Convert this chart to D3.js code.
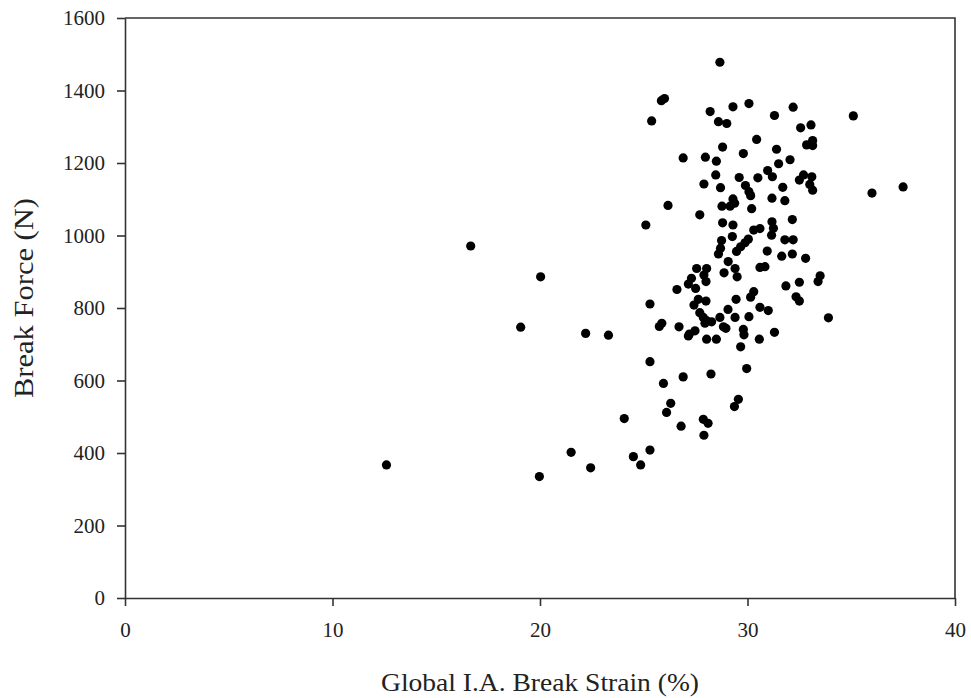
<!DOCTYPE html>
<html>
<head>
<meta charset="utf-8">
<script src="https://cdn.jsdelivr.net/npm/d3@7"></script>
<style>
  body { margin: 0; background: #fff; }
  .chart text { font-family: "Liberation Serif", "DejaVu Serif", serif; fill: #222; }
</style>
</head>
<body>
<div class="chart"></div>
<script>
// Global I.A. break strain (%) vs break force (N)
var strain = [
  28.67, 25.85, 26.0, 25.38, 28.2, 29.3, 30.07, 31.3, 32.2, 35.1,
  28.6, 29.0, 32.56, 33.06, 30.44, 32.85, 33.14, 33.14, 28.8, 31.4,
  26.9, 27.97, 28.5, 29.8, 31.5, 32.05, 28.47, 27.9, 28.7, 29.6,
  30.5, 30.97, 31.2, 31.7, 32.5, 32.7, 33.1, 33.0, 33.14, 29.9,
  30.07, 30.15, 29.3, 28.77, 29.16, 29.38, 31.18, 31.8, 30.2, 26.17,
  27.7, 25.1, 28.8, 29.3, 30.3, 30.6, 31.18, 31.25, 31.16, 32.16,
  31.8, 32.2, 28.75, 29.27, 30.04, 29.88, 29.67, 29.47, 28.7, 28.6,
  30.95, 31.65, 32.16, 32.8, 29.07, 28.87, 29.4, 29.5, 30.6, 30.84,
  27.55, 28.03, 27.9, 28.0, 27.3, 27.15, 27.5, 26.6, 25.3, 31.85,
  32.5, 33.5, 33.4, 32.34, 32.5, 30.3, 30.15, 29.45, 27.63, 28.0,
  27.42, 29.06, 30.6, 31.0, 27.7, 27.87, 28.03, 28.27, 27.95, 28.67,
  28.84, 28.96, 29.4, 30.07, 29.8, 29.83, 30.57, 31.3, 33.9, 25.87,
  25.75, 26.7, 27.2, 27.47, 27.15, 28.03, 28.5, 29.67, 23.3, 22.2,
  19.07, 20.03, 16.66, 25.3, 26.9, 25.95, 28.24, 29.96, 26.3, 26.1,
  29.56, 29.37, 24.06, 26.8, 27.87, 28.1, 27.9, 25.3, 24.5, 24.85,
  21.5, 22.44, 12.6, 19.97, 36.0, 37.5
];
var force = [
  1478, 1372, 1378, 1316, 1342, 1355, 1364, 1331, 1354, 1330,
  1314, 1309, 1297, 1305, 1265, 1250, 1262, 1248, 1244, 1238,
  1214, 1216, 1205, 1226, 1198, 1209, 1167, 1142, 1132, 1160,
  1159, 1179, 1162, 1133, 1153, 1167, 1162, 1141, 1125, 1138,
  1121, 1110, 1101, 1081, 1081, 1089, 1103, 1096, 1074, 1083,
  1057, 1029, 1035, 1029, 1015, 1019, 1038, 1020, 1001, 1044,
  988, 988, 986, 997, 990, 980, 969, 956, 965, 949,
  957, 943, 949, 937, 928, 897, 909, 886, 912, 914,
  909, 909, 891, 873, 882, 866, 854, 851, 811, 861,
  871, 889, 873, 831, 819, 845, 830, 824, 824, 819,
  808, 796, 802, 793, 787, 774, 765, 762, 758, 774,
  748, 744, 774, 776, 741, 726, 714, 733, 773, 758,
  749, 748, 728, 737, 723, 714, 714, 693, 725, 730,
  747, 886, 971, 652, 610, 592, 618, 633, 537, 512,
  548, 528, 495, 474, 493, 482, 449, 408, 390, 367,
  402, 359, 367, 335, 1117, 1134
];
var xTicks = [0, 10, 20, 30, 40];
var yTicks = [0, 200, 400, 600, 800, 1000, 1200, 1400, 1600];

var width = 971, height = 698;
var margin = {top: 18, right: 16, bottom: 100, left: 125};

var svg = d3.select(".chart").append("svg")
    .attr("width", width)
    .attr("height", height);

var x = d3.scaleLinear().domain([0, 40]).range([margin.left, width - margin.right]);
var y = d3.scaleLinear().domain([0, 1600]).range([height - margin.bottom, margin.top]);

var points = strain.map(function(s, i) { return {s: s, f: force[i]}; });

// frame (top + right)
svg.append("path")
    .attr("d", "M" + x(0) + "," + y(1600) + "H" + x(40) + "V" + y(0))
    .attr("fill", "none")
    .attr("stroke", "#333")
    .attr("stroke-width", 1.6);

var xAxis = svg.append("g")
    .attr("transform", "translate(0," + y(0) + ")")
    .call(d3.axisBottom(x).tickValues(xTicks).tickFormat(d3.format("d"))
      .tickSize(8).tickSizeOuter(0).tickPadding(16));

var yAxis = svg.append("g")
    .attr("transform", "translate(" + x(0) + ",0)")
    .call(d3.axisLeft(y).tickValues(yTicks).tickFormat(d3.format("d"))
      .tickSize(8).tickSizeOuter(0).tickPadding(12));

[xAxis, yAxis].forEach(function(g) {
  g.selectAll("path, line").attr("stroke", "#333").attr("stroke-width", 1.6);
  g.selectAll("text").style("font-size", "21px").attr("fill", "#222");
});

svg.append("g")
  .selectAll("circle")
  .data(points)
  .enter()
  .append("circle")
    .attr("cx", d => x(d.s))
    .attr("cy", d => y(d.f))
    .attr("r", 4.6)
    .attr("fill", "#000");

svg.append("text")
    .attr("x", 540)
    .attr("y", 691)
    .attr("text-anchor", "middle")
    .attr("textLength", 318)
    .attr("lengthAdjust", "spacingAndGlyphs")
    .style("font-size", "25px")
    .text("Global I.A. Break Strain (%)");

svg.append("text")
    .attr("transform", "translate(33,298) rotate(-90)")
    .attr("text-anchor", "middle")
    .attr("textLength", 200)
    .attr("lengthAdjust", "spacingAndGlyphs")
    .style("font-size", "27px")
    .text("Break Force (N)");
</script>
</body>
</html>
